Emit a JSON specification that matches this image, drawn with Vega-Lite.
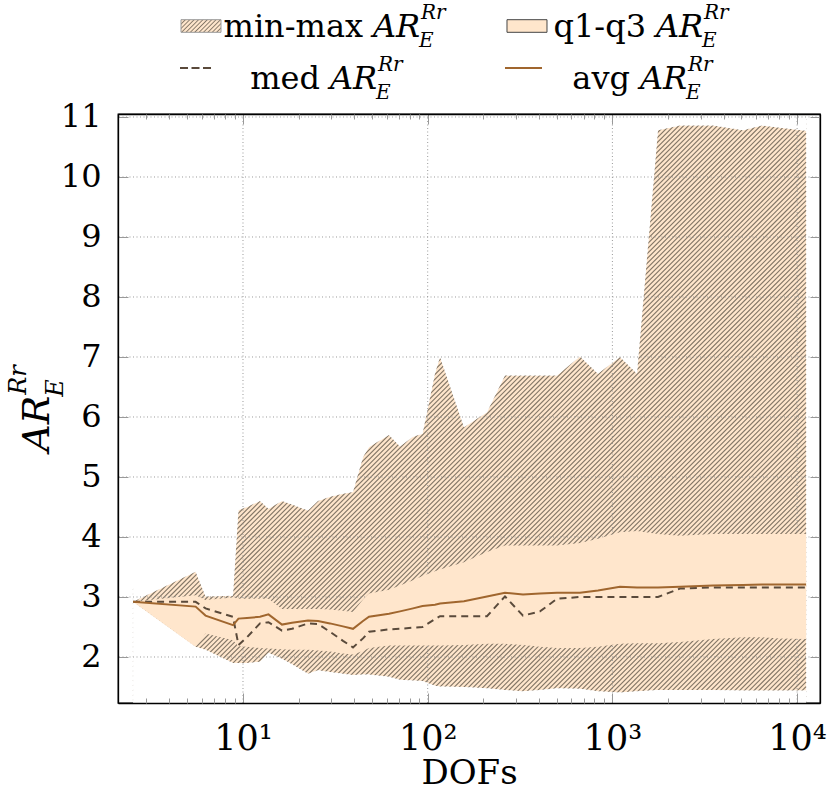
{
"$schema": "https://vega.github.io/schema/vega-lite/v6.json",
"background": "white",
"padding": {"left": 6, "top": 3, "right": 5, "bottom": 5},
"spacing": 25,
"bounds": "flush",
"config": {"view": {"stroke": null}, "font": "DejaVu Serif", "text": {"font": "DejaVu Serif", "color": "black"}},
"datasets": {
"ar": [
{"dof":2.54,"min":2.92,"q1":2.92,"med":2.92,"avg":2.92,"q3":2.92,"max":2.92},
{"dof":5.54,"min":2.17,"q1":2.17,"med":2.92,"avg":2.84,"q3":3.03,"max":3.42},
{"dof":6.27,"min":2.12,"q1":2.39,"med":2.81,"avg":2.69,"q3":2.95,"max":3.01},
{"dof":8.83,"min":1.9,"q1":2.28,"med":2.67,"avg":2.53,"q3":2.99,"max":3.02},
{"dof":9.45,"min":1.9,"q1":2.18,"med":2.2,"avg":2.64,"q3":2.97,"max":4.45},
{"dof":10.51,"min":1.9,"q1":2.17,"med":2.33,"avg":2.65,"q3":2.97,"max":4.5},
{"dof":12.36,"min":1.92,"q1":2.15,"med":2.56,"avg":2.67,"q3":2.97,"max":4.6},
{"dof":13.74,"min":2.07,"q1":2.14,"med":2.58,"avg":2.71,"q3":2.97,"max":4.47},
{"dof":16.26,"min":1.97,"q1":2.13,"med":2.44,"avg":2.54,"q3":2.8,"max":4.6},
{"dof":18.42,"min":1.88,"q1":2.12,"med":2.47,"avg":2.57,"q3":2.8,"max":4.54},
{"dof":22.48,"min":1.72,"q1":2.12,"med":2.56,"avg":2.61,"q3":2.8,"max":4.44},
{"dof":25.47,"min":1.78,"q1":2.11,"med":2.55,"avg":2.6,"q3":2.8,"max":4.6},
{"dof":29.58,"min":1.75,"q1":2.09,"med":2.42,"avg":2.56,"q3":2.79,"max":4.67},
{"dof":34.78,"min":1.72,"q1":2.06,"med":2.27,"avg":2.51,"q3":2.77,"max":4.72},
{"dof":39.41,"min":1.7,"q1":2.04,"med":2.16,"avg":2.47,"q3":2.75,"max":4.75},
{"dof":44.64,"min":1.71,"q1":2.1,"med":2.31,"avg":2.6,"q3":2.96,"max":5.33},
{"dof":48.11,"min":1.71,"q1":2.15,"med":2.42,"avg":2.67,"q3":3.06,"max":5.5},
{"dof":61.74,"min":1.67,"q1":2.19,"med":2.46,"avg":2.72,"q3":3.12,"max":5.7},
{"dof":70.8,"min":1.62,"q1":2.19,"med":2.47,"avg":2.76,"q3":3.19,"max":5.51},
{"dof":83.26,"min":1.61,"q1":2.19,"med":2.49,"avg":2.81,"q3":3.28,"max":5.67},
{"dof":93.74,"min":1.6,"q1":2.19,"med":2.5,"avg":2.85,"q3":3.35,"max":5.72},
{"dof":109.5,"min":1.52,"q1":2.19,"med":2.63,"avg":2.87,"q3":3.43,"max":6.72},
{"dof":116.6,"min":1.51,"q1":2.19,"med":2.68,"avg":2.89,"q3":3.46,"max":7.0},
{"dof":157.2,"min":1.5,"q1":2.2,"med":2.68,"avg":2.93,"q3":3.58,"max":5.83},
{"dof":209.4,"min":1.48,"q1":2.22,"med":2.68,"avg":3.01,"q3":3.75,"max":6.08},
{"dof":262.1,"min":1.45,"q1":2.22,"med":3.01,"avg":3.07,"q3":3.86,"max":6.69},
{"dof":328.1,"min":1.43,"q1":2.2,"med":2.69,"avg":3.04,"q3":3.86,"max":6.69},
{"dof":405.5,"min":1.45,"q1":2.17,"med":2.76,"avg":3.06,"q3":3.86,"max":6.69},
{"dof":501.3,"min":1.48,"q1":2.15,"med":2.97,"avg":3.07,"q3":3.86,"max":6.69},
{"dof":667.6,"min":1.47,"q1":2.15,"med":3.0,"avg":3.07,"q3":3.9,"max":7.01},
{"dof":835.6,"min":1.43,"q1":2.17,"med":3.0,"avg":3.11,"q3":3.97,"max":6.72},
{"dof":1099,"min":1.41,"q1":2.22,"med":3.0,"avg":3.17,"q3":4.08,"max":7.0},
{"dof":1359,"min":1.43,"q1":2.23,"med":3.0,"avg":3.16,"q3":4.1,"max":6.72},
{"dof":1766,"min":1.45,"q1":2.23,"med":3.0,"avg":3.16,"q3":4.05,"max":10.78},
{"dof":2323,"min":1.45,"q1":2.25,"med":3.14,"avg":3.17,"q3":4.02,"max":10.86},
{"dof":3505,"min":1.45,"q1":2.3,"med":3.16,"avg":3.19,"q3":4.05,"max":10.86},
{"dof":5094,"min":1.44,"q1":2.33,"med":3.16,"avg":3.2,"q3":4.05,"max":10.78},
{"dof":6457,"min":1.44,"q1":2.33,"med":3.16,"avg":3.21,"q3":4.05,"max":10.86},
{"dof":8087,"min":1.44,"q1":2.31,"med":3.16,"avg":3.21,"q3":4.05,"max":10.82},
{"dof":11186,"min":1.44,"q1":2.3,"med":3.16,"avg":3.21,"q3":4.05,"max":10.77}
],
"gridx": [{"v":10},{"v":100},{"v":1000},{"v":10000}],
"gridy": [{"v":2},{"v":3},{"v":4},{"v":5},{"v":6},{"v":7},{"v":8},{"v":9},{"v":10},{"v":11}],
"legend": [
{"item":"minmax","col":0,"row":0,"pre":"min-max"},
{"item":"q13","col":1,"row":0,"pre":"q1-q3"},
{"item":"med","col":0,"row":1,"pre":"med"},
{"item":"avg","col":1,"row":1,"pre":"avg"}
],
"ytitle": [{"part":"base","s":"AR"},{"part":"sup","s":"Rr"},{"part":"sub","s":"E"}],
"hatch": [{"name":"min-max hatch"}]
},
"vconcat": [
{
"width": 494, "height": 52,
"data": {"name": "legend"},
"encoding": {
"x": {"field":"col","type":"quantitative","scale":{"domain":[-0.2577,1.2577],"nice":false,"zero":false},"axis":null},
"y": {"field":"row","type":"quantitative","scale":{"domain":[0,1],"reverse":true,"nice":false,"zero":false},"axis":null}
},
"layer": [
{"transform":[{"filter":"datum.item=='minmax'"}],
"mark":{"type":"rect","xOffset":-21,"x2Offset":19,"yOffset":-17.3,"y2Offset":-4.7,"stroke":"#999999","strokeWidth":1,
"fill":{"gradient":"linear","x1":0,"y1":0,"x2":1.1963,"y2":0.3768,"stops":[{"offset":0,"color":"#857868"},{"offset":0.025,"color":"#ffe6cc"},{"offset":0.0583,"color":"#ffe6cc"},{"offset":0.0833,"color":"#857868"},{"offset":0.1083,"color":"#ffe6cc"},{"offset":0.1417,"color":"#ffe6cc"},{"offset":0.1667,"color":"#857868"},{"offset":0.1917,"color":"#ffe6cc"},{"offset":0.225,"color":"#ffe6cc"},{"offset":0.25,"color":"#857868"},{"offset":0.275,"color":"#ffe6cc"},{"offset":0.3083,"color":"#ffe6cc"},{"offset":0.3333,"color":"#857868"},{"offset":0.3583,"color":"#ffe6cc"},{"offset":0.3917,"color":"#ffe6cc"},{"offset":0.4167,"color":"#857868"},{"offset":0.4417,"color":"#ffe6cc"},{"offset":0.475,"color":"#ffe6cc"},{"offset":0.5,"color":"#857868"},{"offset":0.525,"color":"#ffe6cc"},{"offset":0.5583,"color":"#ffe6cc"},{"offset":0.5833,"color":"#857868"},{"offset":0.6083,"color":"#ffe6cc"},{"offset":0.6417,"color":"#ffe6cc"},{"offset":0.6667,"color":"#857868"},{"offset":0.6917,"color":"#ffe6cc"},{"offset":0.725,"color":"#ffe6cc"},{"offset":0.75,"color":"#857868"},{"offset":0.775,"color":"#ffe6cc"},{"offset":0.8083,"color":"#ffe6cc"},{"offset":0.8333,"color":"#857868"},{"offset":0.8583,"color":"#ffe6cc"},{"offset":0.8917,"color":"#ffe6cc"},{"offset":0.9167,"color":"#857868"},{"offset":0.9417,"color":"#ffe6cc"},{"offset":0.975,"color":"#ffe6cc"},{"offset":1,"color":"#857868"}]}},
"encoding":{"x2":{"field":"col"},"y2":{"field":"row"}}},
{"transform":[{"filter":"datum.item=='q13'"}],
"mark":{"type":"rect","xOffset":-21,"x2Offset":19,"yOffset":-17.3,"y2Offset":-4.7,"stroke":"#444444","strokeWidth":1,"fill":"#ffe6cc"},
"encoding":{"x2":{"field":"col"},"y2":{"field":"row"}}},
{"transform":[{"filter":"datum.item=='med'"}],
"mark":{"type":"rule","xOffset":-22,"x2Offset":10,"yOffset":-21,"stroke":"#5a4a3b","strokeWidth":2,"strokeDash":[8,3.5]},
"encoding":{"x2":{"field":"col"}}},
{"transform":[{"filter":"datum.item=='avg'"}],
"mark":{"type":"rule","xOffset":-23,"x2Offset":14,"yOffset":-21,"stroke":"#a0662e","strokeWidth":2},
"encoding":{"x2":{"field":"col"}}},
{"transform":[{"filter":"datum.item=='minmax'"}],"mark":{"type":"text","font":"DejaVu Serif","align":"right","baseline":"alphabetic","fontSize":32,"dx":161},"encoding":{"text":{"field":"pre"}}},
{"transform":[{"filter":"datum.item=='minmax'"}],"mark":{"type":"text","font":"DejaVu Serif","text":"AR","align":"left","baseline":"alphabetic","fontSize":32,"fontStyle":"italic","dx":171}},
{"transform":[{"filter":"datum.item=='minmax'"}],"mark":{"type":"text","font":"DejaVu Serif","text":"Rr","align":"left","baseline":"alphabetic","fontSize":20,"fontStyle":"italic","dx":219,"dy":-18}},
{"transform":[{"filter":"datum.item=='minmax'"}],"mark":{"type":"text","font":"DejaVu Serif","text":"E","align":"left","baseline":"alphabetic","fontSize":20,"fontStyle":"italic","dx":217,"dy":10}},
{"transform":[{"filter":"datum.item=='q13'"}],"mark":{"type":"text","font":"DejaVu Serif","align":"right","baseline":"alphabetic","fontSize":32,"dx":118},"encoding":{"text":{"field":"pre"}}},
{"transform":[{"filter":"datum.item=='q13'"}],"mark":{"type":"text","font":"DejaVu Serif","text":"AR","align":"left","baseline":"alphabetic","fontSize":32,"fontStyle":"italic","dx":128}},
{"transform":[{"filter":"datum.item=='q13'"}],"mark":{"type":"text","font":"DejaVu Serif","text":"Rr","align":"left","baseline":"alphabetic","fontSize":20,"fontStyle":"italic","dx":176,"dy":-18}},
{"transform":[{"filter":"datum.item=='q13'"}],"mark":{"type":"text","font":"DejaVu Serif","text":"E","align":"left","baseline":"alphabetic","fontSize":20,"fontStyle":"italic","dx":174,"dy":10}},
{"transform":[{"filter":"datum.item=='med'"}],"mark":{"type":"text","font":"DejaVu Serif","align":"right","baseline":"alphabetic","fontSize":32,"dx":118},"encoding":{"text":{"field":"pre"}}},
{"transform":[{"filter":"datum.item=='med'"}],"mark":{"type":"text","font":"DejaVu Serif","text":"AR","align":"left","baseline":"alphabetic","fontSize":32,"fontStyle":"italic","dx":128}},
{"transform":[{"filter":"datum.item=='med'"}],"mark":{"type":"text","font":"DejaVu Serif","text":"Rr","align":"left","baseline":"alphabetic","fontSize":20,"fontStyle":"italic","dx":176,"dy":-18}},
{"transform":[{"filter":"datum.item=='med'"}],"mark":{"type":"text","font":"DejaVu Serif","text":"E","align":"left","baseline":"alphabetic","fontSize":20,"fontStyle":"italic","dx":174,"dy":10}},
{"transform":[{"filter":"datum.item=='avg'"}],"mark":{"type":"text","font":"DejaVu Serif","align":"right","baseline":"alphabetic","fontSize":32,"dx":102},"encoding":{"text":{"field":"pre"}}},
{"transform":[{"filter":"datum.item=='avg'"}],"mark":{"type":"text","font":"DejaVu Serif","text":"AR","align":"left","baseline":"alphabetic","fontSize":32,"fontStyle":"italic","dx":112}},
{"transform":[{"filter":"datum.item=='avg'"}],"mark":{"type":"text","font":"DejaVu Serif","text":"Rr","align":"left","baseline":"alphabetic","fontSize":20,"fontStyle":"italic","dx":160,"dy":-18}},
{"transform":[{"filter":"datum.item=='avg'"}],"mark":{"type":"text","font":"DejaVu Serif","text":"E","align":"left","baseline":"alphabetic","fontSize":20,"fontStyle":"italic","dx":158,"dy":10}}
]
},
{
"width": 702, "height": 589,
"view": {"stroke": "black", "strokeWidth": 1.3},
"resolve": {"axis": {"x": "independent", "y": "independent"}},
"layer": [
{"data":{"name":"ar"},"mark":{"type":"area","fill":"#ffe6cc"},
"encoding":{
"x":{"field":"dof","type":"quantitative","scale":{"type":"log","domain":[2.105,13305],"nice":false},
"axis":{"orient":"bottom","values":[10,100,1000,10000],"labelExpr":"'10' + (datum.value < 50 ? '¹' : datum.value < 500 ? '²' : datum.value < 5000 ? '³' : '⁴')","tickSize":-10,"tickColor":"#999999","tickWidth":1,"domain":true,"domainColor":"#000000","domainWidth":1.3,"grid":false,"labelFont":"DejaVu Serif","labelFontSize":35,"labelColor":"black","labelPadding":28,"labelFlush":false,"labelOverlap":false,"title":"DOFs","titleFont":"DejaVu Serif","titleFontSize":34,"titleFontWeight":"normal","titleColor":"black","titlePadding":0,"zindex":1}},
"y":{"field":"min","type":"quantitative","scale":{"domain":[1.2333,11.05],"nice":false,"zero":false},
"axis":{"orient":"left","values":[2,3,4,5,6,7,8,9,10,11],"tickSize":-10,"tickColor":"#999999","tickWidth":1,"domain":true,"domainColor":"#000000","domainWidth":1.3,"grid":false,"labelFont":"DejaVu Serif","labelFontSize":32,"labelColor":"black","labelPadding":27,"title":null,"zindex":1}},
"y2":{"field":"max"}}},
{"data":{"name":"hatch"},
"mark":{"type":"point","filled":false,"opacity":1,"stroke":"#857868","strokeWidth":1.15,"size":452929,"clip":true,
"shape":"M-1 0.54l2-2m-2 2.0143l2-2m-2 2.0143l2-2m-2 2.0143l2-2m-2 2.0143l2-2m-2 2.0143l2-2m-2 2.0143l2-2m-2 2.0143l2-2m-2 2.0143l2-2m-2 2.0143l2-2m-2 2.0143l2-2m-2 2.0143l2-2m-2 2.0143l2-2m-2 2.0143l2-2m-2 2.0143l2-2m-2 2.0143l2-2m-2 2.0143l2-2m-2 2.0143l2-2m-2 2.0143l2-2m-2 2.0143l2-2m-2 2.0143l2-2m-2 2.0143l2-2m-2 2.0143l2-2m-2 2.0143l2-2m-2 2.0143l2-2m-2 2.0143l2-2m-2 2.0143l2-2m-2 2.0143l2-2m-2 2.0143l2-2m-2 2.0143l2-2m-2 2.0143l2-2m-2 2.0143l2-2m-2 2.0143l2-2m-2 2.0143l2-2m-2 2.0143l2-2m-2 2.0143l2-2m-2 2.0143l2-2m-2 2.0143l2-2m-2 2.0143l2-2m-2 2.0143l2-2m-2 2.0143l2-2m-2 2.0143l2-2m-2 2.0143l2-2m-2 2.0143l2-2m-2 2.0143l2-2m-2 2.0143l2-2m-2 2.0143l2-2m-2 2.0143l2-2m-2 2.0143l2-2m-2 2.0143l2-2m-2 2.0143l2-2m-2 2.0143l2-2m-2 2.0143l2-2m-2 2.0143l2-2m-2 2.0143l2-2m-2 2.0143l2-2m-2 2.0143l2-2m-2 2.0143l2-2m-2 2.0143l2-2m-2 2.0143l2-2m-2 2.0143l2-2m-2 2.0143l2-2m-2 2.0143l2-2m-2 2.0143l2-2m-2 2.0143l2-2m-2 2.0143l2-2m-2 2.0143l2-2m-2 2.0143l2-2m-2 2.0143l2-2m-2 2.0143l2-2m-2 2.0143l2-2m-2 2.0143l2-2m-2 2.0143l2-2m-2 2.0143l2-2m-2 2.0143l2-2m-2 2.0143l2-2m-2 2.0143l2-2m-2 2.0143l2-2m-2 2.0143l2-2m-2 2.0143l2-2m-2 2.0143l2-2m-2 2.0143l2-2m-2 2.0143l2-2m-2 2.0143l2-2m-2 2.0143l2-2m-2 2.0143l2-2m-2 2.0143l2-2m-2 2.0143l2-2m-2 2.0143l2-2m-2 2.0143l2-2m-2 2.0143l2-2m-2 2.0143l2-2m-2 2.0143l2-2m-2 2.0143l2-2m-2 2.0143l2-2m-2 2.0143l2-2m-2 2.0143l2-2m-2 2.0143l2-2m-2 2.0143l2-2m-2 2.0143l2-2m-2 2.0143l2-2m-2 2.0143l2-2m-2 2.0143l2-2m-2 2.0143l2-2m-2 2.0143l2-2m-2 2.0143l2-2m-2 2.0143l2-2m-2 2.0143l2-2m-2 2.0143l2-2m-2 2.0143l2-2m-2 2.0143l2-2m-2 2.0143l2-2m-2 2.0143l2-2m-2 2.0143l2-2m-2 2.0143l2-2m-2 2.0143l2-2m-2 2.0143l2-2m-2 2.0143l2-2m-2 2.0143l2-2m-2 2.0143l2-2m-2 2.0143l2-2m-2 2.0143l2-2m-2 2.0143l2-2m-2 2.0143l2-2m-2 2.0143l2-2m-2 2.0143l2-2m-2 2.0143l2-2m-2 2.0143l2-2m-2 2.0143l2-2m-2 2.0143l2-2m-2 2.0143l2-2m-2 2.0143l2-2m-2 2.0143l2-2m-2 2.0143l2-2m-2 2.0143l2-2m-2 2.0143l2-2m-2 2.0143l2-2m-2 2.0143l2-2m-2 2.0143l2-2m-2 2.0143l2-2m-2 2.0143l2-2m-2 2.0143l2-2m-2 2.0143l2-2m-2 2.0143l2-2m-2 2.0143l2-2m-2 2.0143l2-2m-2 2.0143l2-2m-2 2.0143l2-2m-2 2.0143l2-2m-2 2.0143l2-2m-2 2.0143l2-2m-2 2.0143l2-2m-2 2.0143l2-2m-2 2.0143l2-2m-2 2.0143l2-2m-2 2.0143l2-2m-2 2.0143l2-2m-2 2.0143l2-2m-2 2.0143l2-2m-2 2.0143l2-2m-2 2.0143l2-2m-2 2.0143l2-2m-2 2.0143l2-2m-2 2.0143l2-2m-2 2.0143l2-2m-2 2.0143l2-2m-2 2.0143l2-2m-2 2.0143l2-2m-2 2.0143l2-2m-2 2.0143l2-2m-2 2.0143l2-2m-2 2.0143l2-2m-2 2.0143l2-2"},
"encoding":{"x":{"datum":168.56,"type":"quantitative","axis":null},"y":{"datum":6.15,"type":"quantitative","axis":null}}},
{"data":{"name":"ar"},"mark":{"type":"area","fill":"white","clip":true},
"encoding":{
"x":{"field":"dof","type":"quantitative","axis":{"orient":"top","values":[10,100,1000,10000],"tickSize":-10,"tickColor":"#999999","tickWidth":1,"labels":false,"domain":true,"domainColor":"#000000","domainWidth":1.3,"grid":false,"title":null,"zindex":1}},
"y":{"field":"max","type":"quantitative","axis":{"orient":"right","values":[2,3,4,5,6,7,8,9,10,11],"tickSize":-10,"tickColor":"#999999","tickWidth":1,"labels":false,"domain":true,"domainColor":"#000000","domainWidth":1.3,"grid":false,"title":null,"zindex":1}},
"y2":{"datum":12}}},
{"data":{"name":"ar"},"mark":{"type":"area","fill":"white","clip":true},
"encoding":{
"x":{"field":"dof","type":"quantitative","axis":{"orient":"bottom","values":[3,4,5,6,7,8,9,20,30,40,50,60,70,80,90,200,300,400,500,600,700,800,900,2000,3000,4000,5000,6000,7000,8000,9000],"tickSize":-5,"tickColor":"#999999","tickWidth":1,"labels":false,"domain":false,"grid":false,"title":null,"zindex":1}},
"y":{"field":"min","type":"quantitative","axis":null},
"y2":{"datum":0.5}}},
{"data":{"name":"gridx"},"mark":{"type":"rule","stroke":"#9a9a9a","strokeWidth":1,"strokeDash":[1,2.5]},
"encoding":{"x":{"field":"v","type":"quantitative","axis":{"orient":"top","values":[3,4,5,6,7,8,9,20,30,40,50,60,70,80,90,200,300,400,500,600,700,800,900,2000,3000,4000,5000,6000,7000,8000,9000],"tickSize":-5,"tickColor":"#999999","tickWidth":1,"labels":false,"domain":false,"grid":false,"title":null,"zindex":1}}}},
{"data":{"name":"gridy"},"mark":{"type":"rule","stroke":"#9a9a9a","strokeWidth":1,"strokeDash":[1,2.5]},
"encoding":{"y":{"field":"v","type":"quantitative","axis":null}}},
{"data":{"name":"ar"},"mark":{"type":"area","fill":"#ffe6cc"},
"encoding":{"x":{"field":"dof","type":"quantitative","axis":null},"y":{"field":"q1","type":"quantitative","axis":null},"y2":{"field":"q3"}}},
{"data":{"name":"ar"},"mark":{"type":"line","stroke":"#5a4a3b","strokeWidth":2,"strokeDash":[7,5]},
"encoding":{"x":{"field":"dof","type":"quantitative","axis":null},"y":{"field":"med","type":"quantitative","axis":null}}},
{"data":{"name":"ar"},"mark":{"type":"line","stroke":"#a0662e","strokeWidth":2},
"encoding":{"x":{"field":"dof","type":"quantitative","axis":null},"y":{"field":"avg","type":"quantitative","axis":null}}},
{"data":{"name":"ytitle"},"transform":[{"filter":"datum.part=='base'"}],
"mark":{"type":"text","font":"DejaVu Serif","angle":270,"align":"left","baseline":"alphabetic","fontSize":38,"fontStyle":"italic"},
"encoding":{"x":{"datum":0.8906,"type":"quantitative","axis":null},"y":{"datum":5.42,"type":"quantitative","axis":null},"text":{"field":"s"}}},
{"data":{"name":"ytitle"},"transform":[{"filter":"datum.part=='sup'"}],
"mark":{"type":"text","font":"DejaVu Serif","angle":270,"align":"left","baseline":"alphabetic","fontSize":24,"fontStyle":"italic","dx":57,"dy":-23},
"encoding":{"x":{"datum":0.8906,"type":"quantitative","axis":null},"y":{"datum":5.42,"type":"quantitative","axis":null},"text":{"field":"s"}}},
{"data":{"name":"ytitle"},"transform":[{"filter":"datum.part=='sub'"}],
"mark":{"type":"text","font":"DejaVu Serif","angle":270,"align":"left","baseline":"alphabetic","fontSize":24,"fontStyle":"italic","dx":55,"dy":14},
"encoding":{"x":{"datum":0.8906,"type":"quantitative","axis":null},"y":{"datum":5.42,"type":"quantitative","axis":null},"text":{"field":"s"}}}
]
}
]
}
